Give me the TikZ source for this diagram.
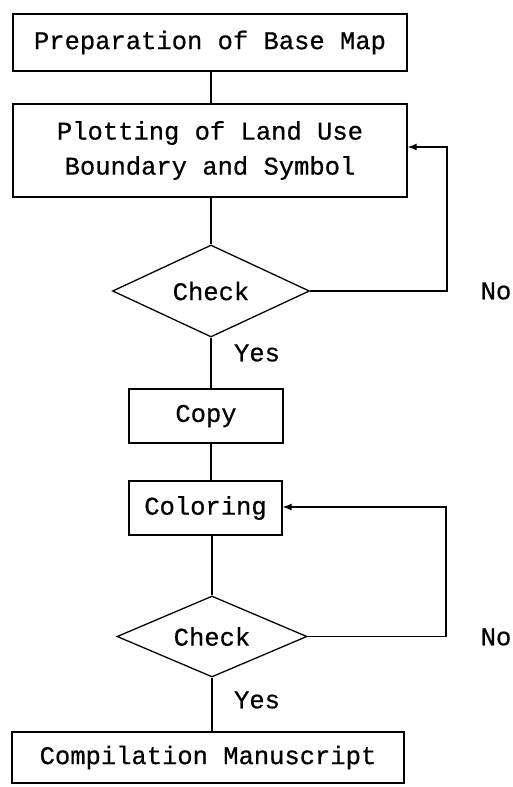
\documentclass[tikz,border=0pt]{standalone}
\usepackage{fontspec}
\setmonofont[FakeBold=0.6]{Liberation Mono}
\usetikzlibrary{shapes.geometric,arrows.meta}
\begin{document}
\begin{tikzpicture}[x=1pt,y=-1pt,
  every node/.style={font=\ttfamily\fontsize{25.5}{35}\selectfont, inner sep=0pt},
  stepbox/.style={draw, line width=1.3pt, rectangle, align=center},
  decision/.style={draw, line width=1.3pt, diamond, aspect=2.1},
  link/.style={line width=1.3pt},
  back/.style={line width=1.3pt, -{Latex[length=9pt,width=7pt]}}]
\useasboundingbox[fill=white] (0,0) rectangle (513,787);

% process steps
\node[stepbox, minimum width=394pt, minimum height=57pt] (base) at (210,42.5) {Preparation of Base Map};
\node[stepbox, minimum width=394pt, minimum height=93pt] (plot) at (210,150.5) {Plotting of Land Use\\Boundary and Symbol};
\node[decision, minimum width=197pt, minimum height=92pt] (check1) at (211,291) {Check};
\node[stepbox, minimum width=154pt, minimum height=54pt] (copy) at (206,416) {Copy};
\node[stepbox, minimum width=153pt, minimum height=54pt] (color) at (205.5,508) {Coloring};
\node[decision, minimum width=190pt, minimum height=81pt] (check2) at (212,636.5) {Check};
\node[stepbox, minimum width=392pt, minimum height=51pt] (manu) at (208,757.5) {Compilation Manuscript};

% answer labels
\node (no1) at (496,291) {No};
\node (yes1) at (257,353) {Yes};
\node (no2) at (496,637) {No};
\node (yes2) at (257,700) {Yes};

% main flow
\draw[link] (base.south -| check1.north) -- (check1.north |- plot.north);
\draw[link] (check1.north |- plot.south) -- (check1.north);
\draw[link] (check1.south) -- (check1.south |- copy.north);
\draw[link] (check1.south |- copy.south) -- (check1.south |- color.north);
\draw[link] (check2.north |- color.south) -- (check2.north);
\draw[link] (check2.south) -- (check2.south |- manu.north);

% feedback loops
\coordinate (turn1) at (447,147);
\coordinate (turn2) at (446,507);
\draw[back] (check1.east) -- (check1.east -| turn1) -- (turn1) -- (turn1 -| plot.east);
\draw[back] (check2.east) -- (check2.east -| turn2) -- (turn2) -- (turn2 -| color.east);
\end{tikzpicture}
\end{document}
